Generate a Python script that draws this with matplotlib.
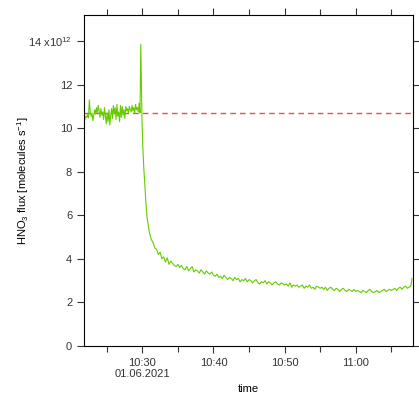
import numpy as np
import pandas as pd
import matplotlib
matplotlib.use("Agg")
import matplotlib.pyplot as plt
import matplotlib.dates as mdates
from matplotlib.ticker import FixedLocator, FixedFormatter

plt.rcParams['font.family'] = ['Liberation Sans', 'DejaVu Sans']
plt.rcParams['mathtext.fontset'] = 'custom'
plt.rcParams['mathtext.rm'] = 'Liberation Sans'
plt.rcParams['mathtext.it'] = 'Liberation Sans:italic'

# minutes after 10:00 on 01.06.2021, flux in 1e12 molecules/s
pre_start, pre_step = 21.8, 0.125
pre_flux = [10.45, 10.40, 10.55, 10.50, 10.62, 10.48, 11.30, 10.75, 10.55, 10.70,
            10.35, 10.60, 10.85, 10.65, 10.95, 10.70, 11.05, 10.80, 10.50, 10.90,
            10.60, 10.75, 10.40, 10.95, 10.55, 10.20, 10.70, 10.30, 10.85, 10.15,
            10.60, 10.90, 10.45, 11.05, 10.65, 10.95, 10.40, 11.10, 10.55, 10.75,
            10.30, 11.05, 10.50, 11.00, 10.60, 10.85, 10.45, 11.00, 10.80, 10.90,
            10.70, 11.00, 10.85, 10.75, 11.05, 10.80, 10.95, 10.70, 11.10, 10.85,
            10.95, 10.75, 11.15, 10.70]

spike_min = [29.78, 29.95, 30.05, 30.2, 30.38, 30.5, 30.66, 30.8]
spike_flux = [13.85, 10.4, 9.3, 8.2, 7.2, 6.6, 5.9, 5.6]

post_start, post_step = 31.0, 0.25
post_flux = [5.2, 4.9, 4.75, 4.5, 4.45, 4.2, 4.3, 4.0, 4.1, 3.85, 4.05, 3.75, 3.9, 3.8, 3.7, 3.65,
             3.75, 3.6, 3.7, 3.55, 3.5, 3.65, 3.45, 3.55, 3.65, 3.4, 3.5, 3.45, 3.35, 3.5, 3.4, 3.3, 3.45, 3.35, 3.3, 3.4,
             3.25, 3.2, 3.3, 3.15, 3.2, 3.1, 3.25, 3.15, 3.05, 3.15, 3.1, 3.0, 3.15, 3.05, 3.1, 2.95, 3.05, 3.0, 3.1, 2.95,
             3.05, 3.0, 2.9, 3.0, 3.05, 2.9, 2.85, 2.95, 2.9, 3.0, 2.85, 2.95, 2.9, 2.8, 2.9, 2.95, 2.85, 2.8, 2.9, 2.85,
             2.8, 2.85, 2.75, 2.9, 2.7, 2.8, 2.75, 2.8, 2.7, 2.75, 2.8, 2.65, 2.75, 2.7, 2.8, 2.65, 2.7, 2.6, 2.75, 2.7,
             2.65, 2.7, 2.6, 2.7, 2.55, 2.65, 2.7, 2.6, 2.55, 2.65, 2.6, 2.5, 2.6, 2.65, 2.55, 2.5, 2.6, 2.55, 2.5, 2.6,
             2.5, 2.55, 2.5, 2.45, 2.55, 2.5, 2.45, 2.55, 2.6, 2.5, 2.45, 2.5, 2.55, 2.45, 2.5, 2.55, 2.6, 2.5, 2.55, 2.6,
             2.55, 2.6, 2.65, 2.55, 2.65, 2.7, 2.6, 2.7, 2.75, 2.65, 2.7, 2.75]
end_min = [67.9]
end_flux = [3.1]

baseline = 10.72
y_ticks = [0, 2, 4, 6, 8, 10, 12, 14]
y_labels = ['0', '2', '4', '6', '8', '10', '12', '14 x10$^{12}$']

minutes = np.concatenate([pre_start + pre_step * np.arange(len(pre_flux)),
                          spike_min,
                          post_start + post_step * np.arange(len(post_flux)),
                          end_min])
flux = np.concatenate([pre_flux, spike_flux, post_flux, end_flux])
t0 = pd.Timestamp('2021-06-01 10:00')
times = t0 + pd.to_timedelta(minutes, unit='min')

fig = plt.figure(figsize=(4.19, 4.0), dpi=100)
ax = fig.add_axes([0.2005, 0.135, 0.7852, 0.8275])

ax.axhline(baseline, color='#e85050', linestyle=(0, (4, 3)), linewidth=1.0, zorder=1)
ax.plot(times, flux, color='#66cc00', linewidth=0.8, zorder=2)

ax.set_xlim(t0 + pd.Timedelta(minutes=21.8), t0 + pd.Timedelta(minutes=68.05))
ax.set_ylim(0, 15.2)

ax.xaxis.set_major_locator(mdates.MinuteLocator(byminute=[0, 10, 20, 30, 40, 50]))
ax.xaxis.set_minor_locator(mdates.MinuteLocator(byminute=[5, 15, 25, 35, 45, 55]))


def fmt_time(x, pos=None):
    d = mdates.num2date(x)
    s = d.strftime('%H:%M')
    if d.hour == 10 and d.minute == 30:
        s += '\n' + d.strftime('%d.%m.%Y')
    return s


ax.xaxis.set_major_formatter(plt.FuncFormatter(fmt_time))
ax.yaxis.set_major_locator(FixedLocator(y_ticks))
ax.yaxis.set_major_formatter(FixedFormatter(y_labels))

for s in ax.spines.values():
    s.set_linewidth(0.8)
ax.tick_params(which='both', direction='out', top=True, right=True, width=0.8,
               labelsize=8, colors='#333333')
ax.tick_params(which='major', length=5)
ax.tick_params(which='minor', length=4.5)

ax.set_ylabel('HNO$_3$ flux [molecules s$^{-1}$]', fontsize=8)
ax.yaxis.set_label_coords(-0.16, 0.5)
ax.set_xlabel('time', fontsize=8, labelpad=3)

fig.savefig('out.png', dpi=100)
